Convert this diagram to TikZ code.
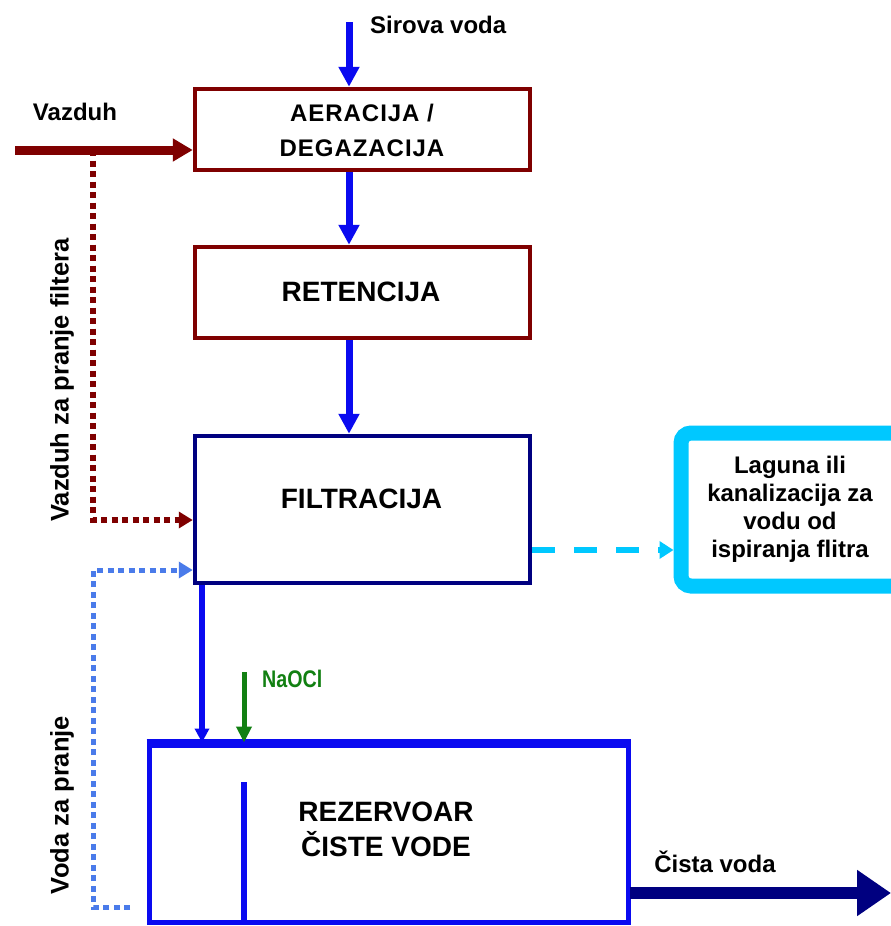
\documentclass[tikz,border=0pt]{standalone}
\usepackage{fontspec}
\setmainfont{Liberation Sans}
\usetikzlibrary{arrows.meta}
\definecolor{dred}{HTML}{7F0000}
\definecolor{wblue}{HTML}{0A0AF0}
\definecolor{navy}{HTML}{000080}
\definecolor{cyanb}{HTML}{00C8FF}
\definecolor{lblue}{HTML}{4A7BEA}
\definecolor{dgreen}{HTML}{128012}
\begin{document}
\begin{tikzpicture}[x=1pt,y=-1pt,
  box/.style={draw, line width=4.5pt, inner sep=0pt, fill=white},
  btxt/.style={font=\bfseries\fontsize{28}{35}\selectfont, inner sep=0pt, align=center},
  lbl/.style={font=\bfseries\fontsize{24}{28}\selectfont, inner sep=0pt},
  waterarrow/.style={draw=wblue, line width=7pt, -{Triangle[length=20pt,width=20pt]}},
  wline/.style={draw=wblue, line width=5.5pt},
  airarrow/.style={draw=dred, line width=9pt, -{Triangle[length=20pt,width=22pt]}},
  airdot/.style={draw=dred, line width=6pt, dash pattern=on 6pt off 4.5pt, -{Triangle[length=14pt,width=16pt]}},
  washdot/.style={draw=lblue, line width=5pt, dash pattern=on 6pt off 4.5pt, -{Triangle[length=14pt,width=16pt]}},
  drain/.style={draw=cyanb, line width=6pt, dash pattern=on 23pt off 19pt, -{Triangle[length=14pt,width=17pt]}},
]
\useasboundingbox (0,0) rectangle (891,926);
\fill[white] (0,0) rectangle (891,926);

% boxes
\node[box, draw=dred, minimum width=335pt, minimum height=81pt] (aer) at (362.5,129.5) {};
\node[btxt, font=\bfseries\fontsize{24}{35}\selectfont\addfontfeature{LetterSpace=4}] (aertxt) at (362,130) {AERACIJA /\\DEGAZACIJA};
\node[box, draw=dred, minimum width=335pt, minimum height=91pt] (ret) at (362.5,292.5) {};
\node[btxt] (rettxt) at (361,292) {RETENCIJA};
\node[box, draw=navy, minimum width=335pt, minimum height=147pt] (fil) at (362.5,509.5) {};
\node[btxt] (filtxt) at (361.5,499) {FILTRACIJA};
\node[box, draw=cyanb, line width=15pt, rounded corners=10pt, minimum width=229pt, minimum height=153pt] (lag) at (795.5,509.5) {};
\node[lbl, align=center] (lagtxt) at (790,509) {Laguna ili\\kanalizacija za\\vodu od\\ispiranja flitra};
\node[box, draw=wblue, line width=5pt, minimum width=479pt, minimum height=177pt] (rez) at (388.5,833.5) {};
\draw[wblue, line width=8pt] (rez.north west) -- (rez.north east);
\node[btxt] (reztxt) at (386,829) {REZERVOAR\\ČISTE VODE};

% coordinates
\coordinate (sv) at (349,22);
\coordinate (vz) at (15,150);
\coordinate (vz1) at (93,150);
\coordinate (fr) at (93,520);
\coordinate (bd0) at (130,907);
\coordinate (bd1) at (93,570);
\coordinate (cd) at (532,550);
\coordinate (fo) at (202,585);
\coordinate (na) at (244,672);
\coordinate (w1) at (244,782);
\coordinate (cv) at (630,893);
\coordinate (cvend) at (891,893);

% water flow
\draw[waterarrow] (sv) -- (sv |- aer.north);
\draw[waterarrow] (sv |- aer.south) -- (sv |- ret.north);
\draw[waterarrow] (sv |- ret.south) -- (sv |- fil.north);
\draw[wline, -{Triangle[length=14pt,width=14pt]}] (fo |- fil.south) -- (fo |- rez.north);
\draw[wline] (w1) -- (w1 |- rez.south);

% NaOCl
\draw[draw=dgreen, line width=5pt, -{Triangle[length=16pt,width=15pt]}] (na) -- (na |- rez.north);
\node[font=\bfseries\fontsize{24}{28}\selectfont, text=dgreen, anchor=west, inner sep=0pt] (natxt) at (262,679) {\scalebox{0.82}[1]{NaOCl}};

% air
\draw[airarrow] (vz) -- (vz -| aer.west);
\draw[airdot] (vz1) |- (fil.west |- fr);
\node[lbl] (vztxt) at (75,112) {Vazduh};
\node[lbl, font=\bfseries\fontsize{25.5}{28}\selectfont, rotate=90] (vzp) at (62,380) {Vazduh za pranje filtera};

% wash water
\draw[washdot] (bd0) -| (bd1) -- (fil.west |- bd1);
\node[lbl, font=\bfseries\fontsize{25.5}{28}\selectfont, rotate=90] (vp) at (62,805) {Voda za pranje};

% drain
\draw[drain] (cd) -- (lag.west |- cd);

% clean water
\draw[draw=navy, line width=12pt, -{Triangle[length=34pt,width=44pt]}] (cv) -- (cvend);
\node[lbl] (cvtxt) at (715,862) {Čista voda};

% raw water label
\node[lbl, anchor=west] (svtxt) at (370,25) {Sirova voda};
\end{tikzpicture}
\end{document}
